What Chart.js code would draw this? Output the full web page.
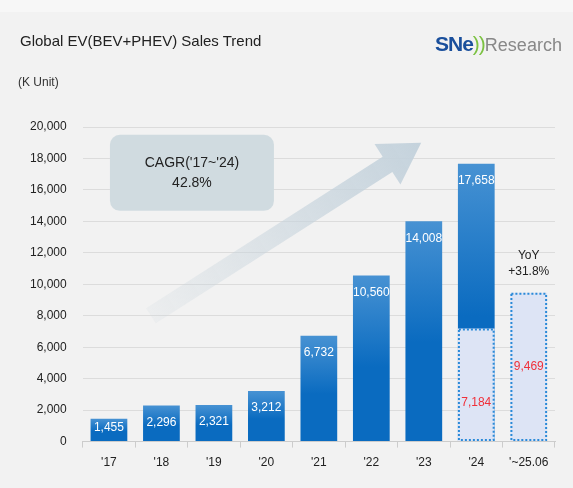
<!DOCTYPE html>
<html><head><meta charset="utf-8">
<script src="https://cdn.jsdelivr.net/npm/chart.js@4"></script>
<style>
html,body{margin:0;padding:0;background:#f7f7f7;}
#wrap{position:absolute;left:0;top:12px;width:573px;height:476px;background:#f2f2f2;}
#title{position:absolute;left:20px;top:20px;font:15px "Liberation Sans",Arial,sans-serif;color:#222;}
#unit{position:absolute;left:18px;top:63px;font:12px "Liberation Sans",Arial,sans-serif;color:#333;}
#logo{position:absolute;left:435px;top:20px;font:bold 21px "Liberation Sans",Arial,sans-serif;color:#1a4f9c;letter-spacing:-1px}
#logo .p{color:#7cc242;font-weight:normal}
#logo .r{color:#888;font-weight:normal;font-size:18px;letter-spacing:0}
canvas{position:absolute;left:0;top:0;}
</style></head><body>
<div id="wrap">
<canvas id="c" width="573" height="476"></canvas>
<div id="title">Global EV(BEV+PHEV) Sales Trend</div>
<div id="unit">(K Unit)</div>
<div id="logo">SNe<span class="p">))</span><span class="r">Research</span></div>
</div>
<script>
const categories=["'17","'18","'19","'20","'21","'22","'23","'24","'~25.06"];
const annualSales=[1455,2296,2321,3212,6732,10560,14008,17658,null];
const firstHalf=[null,null,null,null,null,null,null,7184,9469];
const yTicks=[0,2000,4000,6000,8000,10000,12000,14000,16000,18000,20000];
const cagrText=["CAGR('17~'24)","42.8%"];
const yoyText=["YoY","+31.8%"];
const fmt=v=>v.toLocaleString('en-US');

function grad(ctx){
  const c=ctx.chart, ys=c.scales.y;
  if(!ys||ctx.raw==null||!c.chartArea) return '#0a6bc0';
  const top=ys.getPixelForValue(ctx.raw), bot=ys.getPixelForValue(0);
  if(!isFinite(top)||!isFinite(bot)||bot-top<1) return '#0a6bc0';
  const g=c.ctx.createLinearGradient(0,top,0,bot);
  g.addColorStop(0,'#4792d3');g.addColorStop(0.55,'#0a6bc0');g.addColorStop(1,'#0a6bc0');return g;
}
const deco={id:'deco',
 beforeDatasetsDraw(ch){
  const c=ch.ctx,x=ch.scales.x,y=ch.scales.y;
  const x0=x.getPixelForValue(0.8),y0=y.getPixelForValue(8000);
  const x1=x.getPixelForValue(5.95),y1=y.getPixelForValue(19000);
  const ang=Math.atan2(y1-y0,x1-x0),len=Math.hypot(x1-x0,y1-y0);
  c.save();c.translate(x0,y0);c.rotate(ang);
  const g=c.createLinearGradient(0,0,len,0);g.addColorStop(0,'rgba(200,212,220,0.15)');g.addColorStop(1,'rgba(196,210,220,1)');
  c.fillStyle=g;c.beginPath();
  c.moveTo(0,-9);c.lineTo(len-40,-9);c.lineTo(len-40,-24);c.lineTo(len,0);c.lineTo(len-40,24);c.lineTo(len-40,9);c.lineTo(0,9);c.closePath();c.fill();c.restore();
  const bx=x.getPixelForValue(0)+1,by=y.getPixelForValue(19500),bw=164,bh=76;
  c.save();c.fillStyle='#d0dbe0';c.beginPath();c.roundRect(bx,by,bw,bh,10);c.fill();
  c.fillStyle='#222';c.font='14px "Liberation Sans",Arial';c.textAlign='center';c.textBaseline='middle';
  c.fillText(cagrText[0],bx+bw/2,by+28);c.fillText(cagrText[1],bx+bw/2,by+48);c.restore();
 },
 afterDatasetsDraw(ch){
  const c=ch.ctx,x=ch.scales.x,y=ch.scales.y;
  c.save();
  ch.getDatasetMeta(1).data.forEach((b,i)=>{if(firstHalf[i]==null)return;
    c.strokeStyle='#2a8ad8';c.lineWidth=2;c.setLineDash([2,2]);
    c.strokeRect(b.x-b.width/2+1,b.y+1,b.width-2,b.base-b.y-2);});
  c.setLineDash([]);
  c.textAlign='center';c.textBaseline='middle';c.font='12px "Liberation Sans",Arial';
  ch.getDatasetMeta(0).data.forEach((b,i)=>{const v=annualSales[i];if(v==null)return;
    c.fillStyle='#fff';c.fillText(fmt(v),b.x,Math.min(b.y+17,y.getPixelForValue(0)-14));});
  ch.getDatasetMeta(1).data.forEach((b,i)=>{const v=firstHalf[i];if(v==null)return;
    c.fillStyle='#f0303a';c.fillText(fmt(v),b.x,(b.y+b.base)/2+(i===7?18:0));});
  const bl=ch.getDatasetMeta(1).data[8];
  c.fillStyle='#222';c.fillText(yoyText[0],bl.x,bl.y-37);c.fillText(yoyText[1],bl.x,bl.y-21);
  c.restore();
 }};
new Chart(document.getElementById('c'),{
 type:'bar',
 data:{labels:categories,datasets:[
  {data:annualSales,backgroundColor:grad,barPercentage:0.7,categoryPercentage:1,grouped:false,order:2},
  {data:firstHalf,backgroundColor:'#dde4f5',borderWidth:0,barPercentage:0.7,categoryPercentage:1,grouped:false,order:1}
 ]},
 options:{responsive:false,animation:false,
  layout:{padding:{left:14,right:18,top:115,bottom:10}},
  plugins:{legend:{display:false},tooltip:{enabled:false}},
  scales:{
   x:{grid:{display:true,drawOnChartArea:false,drawTicks:true,tickLength:6,color:'#ccc',offset:true},border:{color:'#ccc'},
      ticks:{color:'#222',font:{size:12,family:'"Liberation Sans",Arial'},padding:8}},
   y:{min:0,max:20000,afterBuildTicks:s=>{s.ticks=yTicks.map(v=>({value:v}));},
      grid:{color:'#dcdcdc',drawTicks:false},border:{display:false},
      ticks:{color:'#222',font:{size:12,family:'"Liberation Sans",Arial'},padding:16,callback:v=>fmt(v)}}
  }},
 plugins:[deco]
});
</script></body></html>
